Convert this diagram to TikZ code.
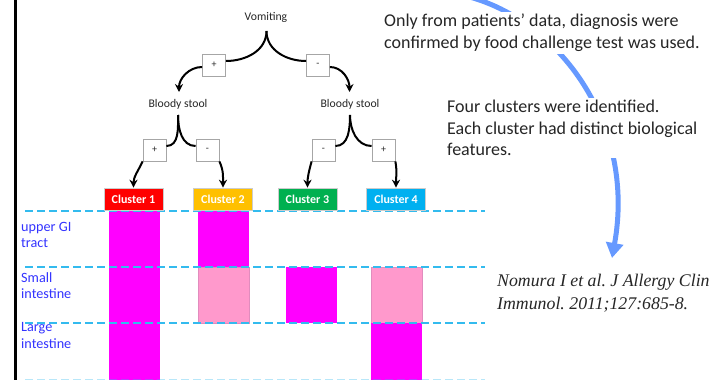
\documentclass[tikz,border=0pt]{standalone}
\usepackage{fontspec}
\setmainfont{Carlito}
\newfontfamily\citefont{Liberation Serif}
\usetikzlibrary{arrows.meta}

\definecolor{txtgray}{RGB}{38,38,38}
\definecolor{arcblue}{RGB}{102,153,255}
\definecolor{lineblue}{RGB}{51,187,238}
\definecolor{labelblue}{RGB}{51,51,255}
\definecolor{barmag}{RGB}{255,0,255}
\definecolor{barpink}{RGB}{255,153,204}
\definecolor{pinkedge}{RGB}{225,140,190}
\definecolor{cred}{RGB}{255,0,0}
\definecolor{corange}{RGB}{255,192,0}
\definecolor{cgreen}{RGB}{0,176,80}
\definecolor{ccyan}{RGB}{0,176,240}

\tikzset{
  treetext/.style={font=\fontsize{11.7}{13}\selectfont, text=txtgray, inner sep=1pt},
  signbox/.style={draw=gray!70, fill=white, line width=0.8pt, minimum width=23pt,
    minimum height=22pt, inner sep=0pt, font=\fontsize{10}{11}\selectfont, text=txtgray},
  clusterbox/.style={fill=#1, draw=gray!40, line width=0.6pt, minimum width=59pt,
    minimum height=22pt, inner sep=0pt, text=white,
    font=\fontsize{12}{13}\selectfont\bfseries},
  branch/.style={draw=black, line width=2pt},
  branchto/.style={branch, -{Stealth[length=8pt,width=8pt]}},
  levelline/.style={draw=lineblue, line width=2pt, dash pattern=on 8pt off 4pt},
  sidelabel/.style={anchor=west, align=left, text=labelblue, inner sep=0pt,
    font=\fontsize{14.2}{16.5}\selectfont},
  note/.style={anchor=west, align=left, fill=white, inner sep=2pt, text=txtgray},
}

\begin{document}
\frenchspacing
\begin{tikzpicture}[x=1pt,y=-1pt]
\useasboundingbox (0,0) rectangle (718,380);

% left frame line
\draw[line width=3pt] (15,0) -- (15,380);

% sweeping arrow behind the notes
\draw[arcblue, line width=5pt, -{Triangle[length=15pt,width=17pt]}]
  (466,-4) .. controls (560,20) and (636,125) .. (612,258);

% bars per cluster
\fill[barmag] (109,211) rectangle (160,380);
\fill[barmag] (198,211) rectangle (249,267);
\filldraw[fill=barpink, draw=pinkedge, line width=0.6pt] (198,267) rectangle (249,323);
\fill[barmag] (286,267) rectangle (337,323);
\filldraw[fill=barpink, draw=pinkedge, line width=0.6pt] (371,267) rectangle (422,323);
\fill[barmag] (371,323) rectangle (422,380);

% region separators
\draw[levelline] (25,211) -- (485,211);
\draw[levelline] (25,267) -- (485,267);
\draw[levelline] (25,323) -- (485,323);
\draw[levelline, draw opacity=0.35] (25,379.5) -- (485,379.5);

% region labels
\node[sidelabel] (lupper) at (21,235) {upper GI\\tract};
\node[sidelabel] (lsmall) at (21,285.5) {Small\\intestine};
\node[sidelabel] (llarge) at (21,335.5) {Large\\intestine};

% decision tree
\node[treetext] (vom) at (266,17) {Vomiting};
\coordinate (vomb) at (266.5,31);
\node[signbox] (p1) at (214,65) {+};
\node[signbox] (m1) at (318,65) {-};
\node[treetext] (bs1) at (178,104) {Bloody stool};
\node[treetext] (bs2) at (350,104) {Bloody stool};
\coordinate (bs1b) at (178,115);
\coordinate (bs2b) at (350,115);
\coordinate (bs1t) at (179,92);
\coordinate (bs2t) at (349.5,92);
\node[signbox] (p2) at (154.5,150) {+};
\node[signbox] (m2) at (207.5,150) {-};
\node[signbox] (m3) at (323.5,150) {-};
\node[signbox] (p4) at (383.5,150) {+};

\node[clusterbox=cred] (c1) at (133.5,199) {Cluster 1};
\node[clusterbox=corange] (c2) at (223,199) {Cluster 2};
\node[clusterbox=cgreen] (c3) at (307.5,199) {Cluster 3};
\node[clusterbox=ccyan] (c4) at (396,199) {Cluster 4};

\draw[branch] (vomb) to[out=-90,in=0] ([yshift=4pt]p1.east);
\draw[branch] (vomb) to[out=-90,in=180] ([yshift=4pt]m1.west);
\draw[branchto] ([yshift=-2pt]p1.west) to[out=180,in=90] (bs1t);
\draw[branchto] ([yshift=-2pt]m1.east) to[out=0,in=90] (bs2t);

\draw[branch] (bs1b) to[out=-90,in=0] ([yshift=4pt]p2.east);
\draw[branch] (bs1b) to[out=-90,in=180] ([yshift=4pt]m2.west);
\draw[branch] (bs2b) to[out=-90,in=0] ([yshift=4pt]m3.east);
\draw[branch] (bs2b) to[out=-90,in=180] ([yshift=4pt]p4.west);

\draw[branchto] (p2.south west) to[out=-115,in=90] (c1.north);
\draw[branchto] (m2.south east) to[out=-65,in=90] (c2.north);
\draw[branchto] (m3.south west) to[out=-105,in=90] (c3.north);
\draw[branchto] (p4.south east) to[out=-80,in=90] (c4.north);

% notes
\node[note, font=\fontsize{18}{22}\selectfont] (n1) at (382,33)
  {Only from patients’ data, diagnosis were\\confirmed by food challenge test was used.};
\node[note, font=\fontsize{18}{21.5}\selectfont] (n2) at (445,128)
  {Four clusters were identified.\\Each cluster had distinct biological\\features.};
\node[note, font=\citefont\itshape\fontsize{17.8}{23}\selectfont] (n3) at (495,293.5)
  {Nomura I et al. J Allergy Clin\\Immunol. 2011;127:685-8.};
\end{tikzpicture}
\end{document}
